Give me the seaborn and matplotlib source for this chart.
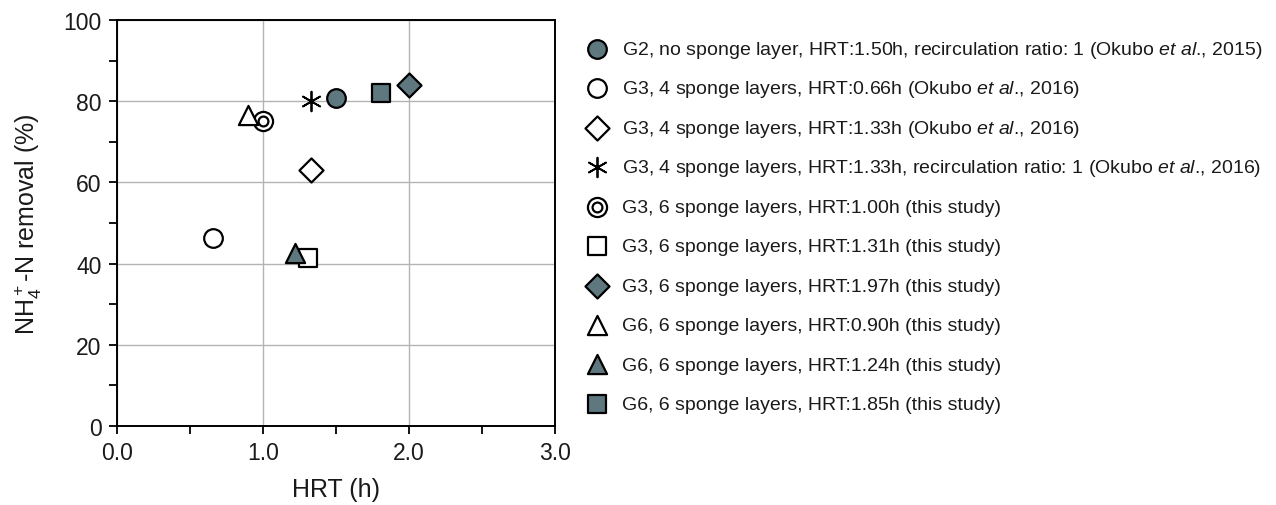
import matplotlib
matplotlib.use("Agg")
import matplotlib.pyplot as plt
import seaborn as sns
import numpy as np
from matplotlib.ticker import MultipleLocator
from matplotlib.legend_handler import HandlerTuple

sns.set_theme(style="white")
plt.rcParams['font.family'] = ['Liberation Sans', 'DejaVu Sans']
plt.rcParams['mathtext.fontset'] = 'custom'
plt.rcParams['mathtext.rm'] = 'Liberation Sans'
plt.rcParams['mathtext.it'] = 'Liberation Sans:italic'
plt.rcParams['mathtext.bf'] = 'Liberation Sans:bold'

# ---- data ----
labels = [
    "G2, no sponge layer, HRT:1.50h, recirculation ratio: 1 (Okubo $\\it{et\\ al}$., 2015)",
    "G3, 4 sponge layers, HRT:0.66h (Okubo $\\it{et\\ al}$., 2016)",
    "G3, 4 sponge layers, HRT:1.33h (Okubo $\\it{et\\ al}$., 2016)",
    "G3, 4 sponge layers, HRT:1.33h, recirculation ratio: 1 (Okubo $\\it{et\\ al}$., 2016)",
    "G3, 6 sponge layers, HRT:1.00h (this study)",
    "G3, 6 sponge layers, HRT:1.31h (this study)",
    "G3, 6 sponge layers, HRT:1.97h (this study)",
    "G6, 6 sponge layers, HRT:0.90h (this study)",
    "G6, 6 sponge layers, HRT:1.24h (this study)",
    "G6, 6 sponge layers, HRT:1.85h (this study)",
]
hrt = [1.50, 0.66, 1.33, 1.33, 1.00, 1.31, 2.00, 0.90, 1.22, 1.81]
removal = [80.9, 46.2, 63.0, 80.0, 75.2, 41.5, 83.9, 76.5, 42.5, 81.9]
markers = ["o", "o", "D", "asterisk", "double", "s", "D", "^", "^", "s"]
filled = [True, False, False, False, False, False, True, False, True, True]

grey = "#5f777e"
fig = plt.figure(figsize=(12.76, 5.06), dpi=100)
ax = fig.add_axes([117/1276, 1-427/506, (555-117)/1276, (427-21)/506])

handles = []
for i in range(len(labels)):
    fc = grey if filled[i] else "white"
    m = markers[i]
    if m == "double":
        sns.scatterplot(x=[hrt[i]], y=[removal[i]], marker="o", s=190, color="white",
                        edgecolor="black", linewidth=1.6, ax=ax, zorder=3)
        h1 = ax.collections[-1]
        sns.scatterplot(x=[hrt[i]], y=[removal[i]], marker="o", s=50, color="white",
                        edgecolor="black", linewidth=1.6, ax=ax, zorder=4)
        h2 = ax.collections[-1]
        handles.append((h1, h2))
    elif m == "asterisk":
        sns.scatterplot(x=[hrt[i]], y=[removal[i]], marker=(6, 2, 0), s=200, color="black",
                        linewidth=1.3, ax=ax, zorder=3)
        handles.append(ax.collections[-1])
    else:
        s = {"o": 180, "D": 150, "s": 160, "^": 190}[m]
        sns.scatterplot(x=[hrt[i]], y=[removal[i]], marker=m, s=s, color=fc,
                        edgecolor="black", linewidth=1.6, ax=ax, zorder=3)
        handles.append(ax.collections[-1])

ax.set_xlim(0, 3.0)
ax.set_ylim(0, 100)
ax.set_xticks([0, 1, 2, 3])
ax.set_xticklabels(["0.0", "1.0", "2.0", "3.0"])
ax.xaxis.set_minor_locator(MultipleLocator(0.5))
ax.set_yticks([0, 20, 40, 60, 80, 100])
ax.yaxis.set_minor_locator(MultipleLocator(10))
ax.tick_params(which="both", direction="out", length=6, width=1.3, color="black",
               labelsize=16.5, labelcolor="#1a1a1a", pad=5)
ax.tick_params(axis="x", which="both", bottom=True, top=False)
ax.tick_params(axis="y", which="both", left=True, right=False)
ax.grid(True, which="major", color="#b4b4b4", linewidth=1.0)
ax.set_axisbelow(True)
for sp in ax.spines.values():
    sp.set_visible(True)
    sp.set_color("black")
    sp.set_linewidth(1.4)

ax.set_xlabel("HRT (h)", fontsize=18, color="#1a1a1a", labelpad=9)
ax.set_ylabel("NH$_4^+$-N removal (%)", fontsize=18, color="#1a1a1a", labelpad=14)

leg = fig.legend(handles, labels, loc="upper left", bbox_to_anchor=(586/1276, 1-35.5/506),
                 frameon=False, fontsize=14, handlelength=1.1, handletextpad=0.75,
                 handleheight=1.7, labelspacing=0.68, borderpad=0, borderaxespad=0,
                 scatteryoffsets=[0.2],
                 handler_map={tuple: HandlerTuple(ndivide=1)})
for t in leg.get_texts():
    t.set_color("#1a1a1a")

fig.savefig("out.png", dpi=100)
